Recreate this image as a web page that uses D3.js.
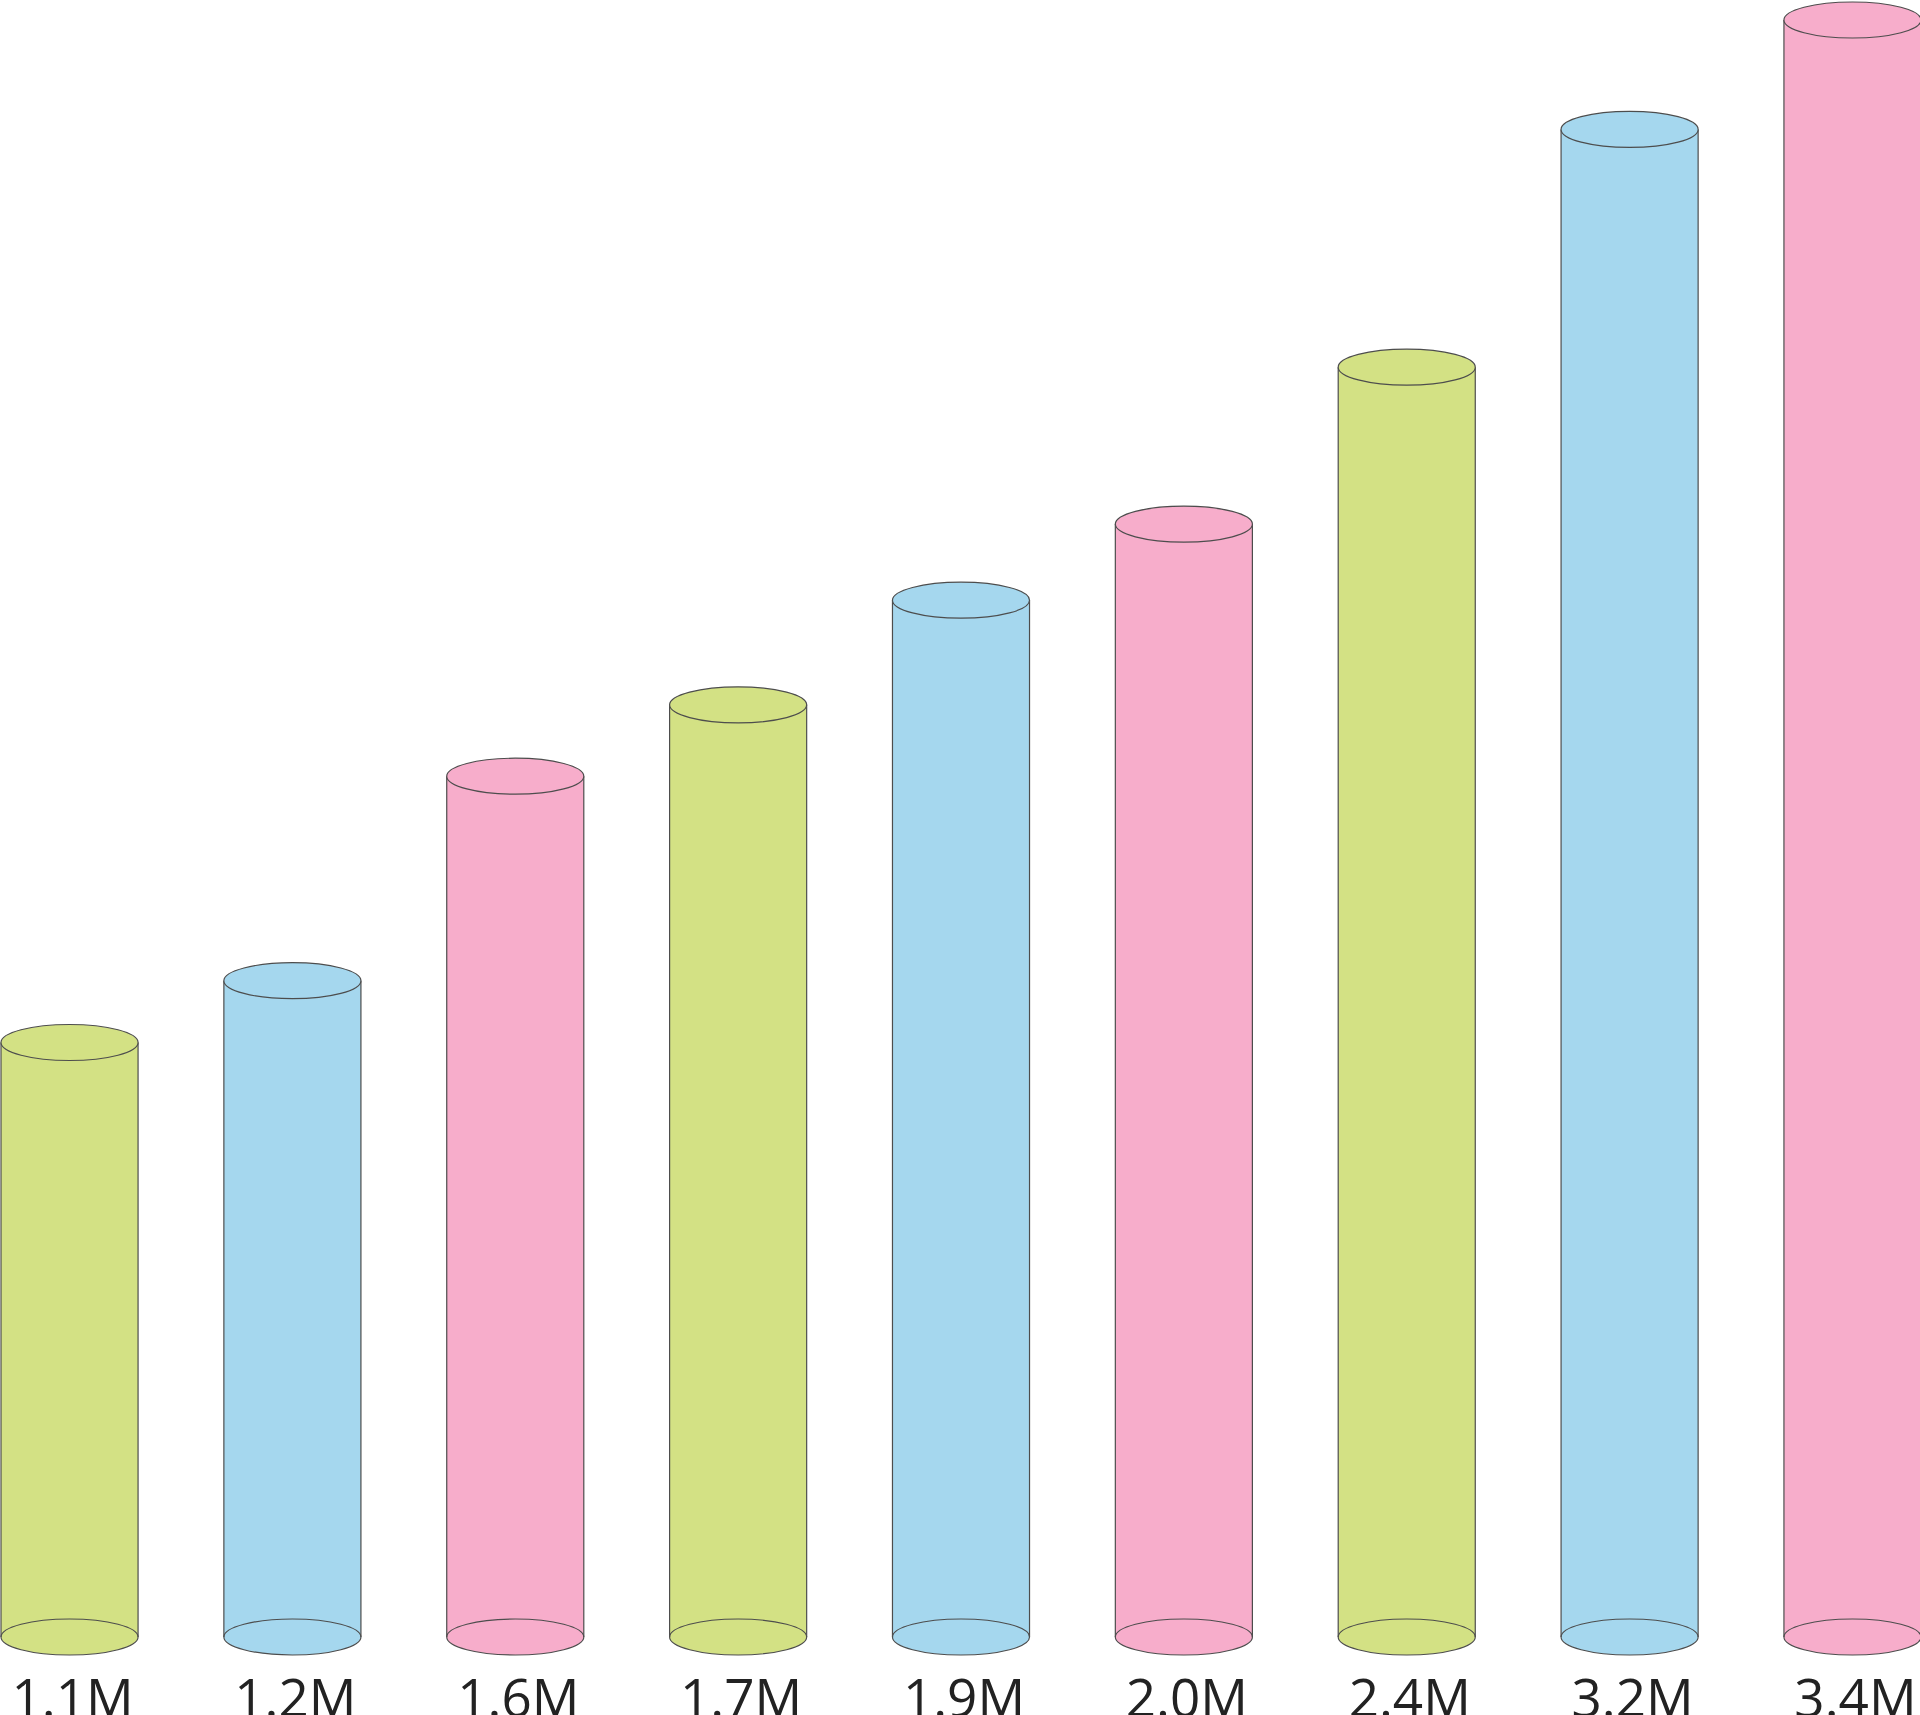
<!DOCTYPE html>
<html>
<head>
<meta charset="utf-8">
<script src="https://cdn.jsdelivr.net/npm/d3@7"></script>
<style>
  html, body { margin: 0; padding: 0; background: #fff; overflow: hidden; }
  svg { display: block; }
</style>
</head>
<body>
<svg id="chart"></svg>
<script>
// category labels shown under each cylinder
const labels = ['1.1M', '1.2M', '1.6M', '1.7M', '1.9M', '2.0M', '2.4M', '3.2M', '3.4M']
// bar values
const values = [1.25, 1.38, 1.81, 1.96, 2.18, 2.34, 2.67, 3.17, 3.40]
const colors = ['#d3e184', '#a5d7ee', '#f7adcb']

const width = 1920
const height = 1715
const baseY = 1637      // centre of the bottom ellipses
const topY = 20         // centre of the tallest top ellipse
const ry = 18

const svg = d3.select('#chart')
    .attr('width', width)
    .attr('height', height)

const x = d3.scaleBand()
    .domain(labels)
    .range([1, 1921])
    .paddingInner(0.385)
    .paddingOuter(0)

const y = d3.scaleLinear()
    .domain([0, d3.max(values)])
    .range([baseY, topY])

const data = labels.map((l, i) => ({label: l, value: values[i], color: colors[i % 3]}))

const g = svg.selectAll('g.cyl')
    .data(data)
    .join('g')
    .attr('class', 'cyl')

const rx = x.bandwidth() / 2
const stroke = '#4d4d4d'

// body
g.append('rect')
    .attr('x', d => x(d.label))
    .attr('y', d => y(d.value))
    .attr('width', x.bandwidth())
    .attr('height', d => baseY - y(d.value))
    .attr('fill', d => d.color)

// bottom ellipse
g.append('ellipse')
    .attr('cx', d => x(d.label) + rx)
    .attr('cy', baseY)
    .attr('rx', rx)
    .attr('ry', ry)
    .attr('fill', d => d.color)
    .attr('stroke', stroke)
    .attr('stroke-width', 1.2)

// side lines
g.append('line')
    .attr('x1', d => x(d.label))
    .attr('x2', d => x(d.label))
    .attr('y1', d => y(d.value))
    .attr('y2', baseY)
    .attr('stroke', stroke)
    .attr('stroke-width', 1.2)
g.append('line')
    .attr('x1', d => x(d.label) + x.bandwidth())
    .attr('x2', d => x(d.label) + x.bandwidth())
    .attr('y1', d => y(d.value))
    .attr('y2', baseY)
    .attr('stroke', stroke)
    .attr('stroke-width', 1.2)

// top ellipse
g.append('ellipse')
    .attr('cx', d => x(d.label) + rx)
    .attr('cy', d => y(d.value))
    .attr('rx', rx)
    .attr('ry', ry)
    .attr('fill', d => d.color)
    .attr('stroke', stroke)
    .attr('stroke-width', 1.2)

// labels (cut off by the bottom edge, as in the source image)
g.append('text')
    .attr('x', d => x(d.label) + rx + 3)
    .attr('y', 1717)
    .attr('text-anchor', 'middle')
    .attr('font-family', '"Open Sans", sans-serif')
    .attr('font-size', '53px')
    .attr('fill', '#222')
    .text(d => d.label)
</script>
</body>
</html>
